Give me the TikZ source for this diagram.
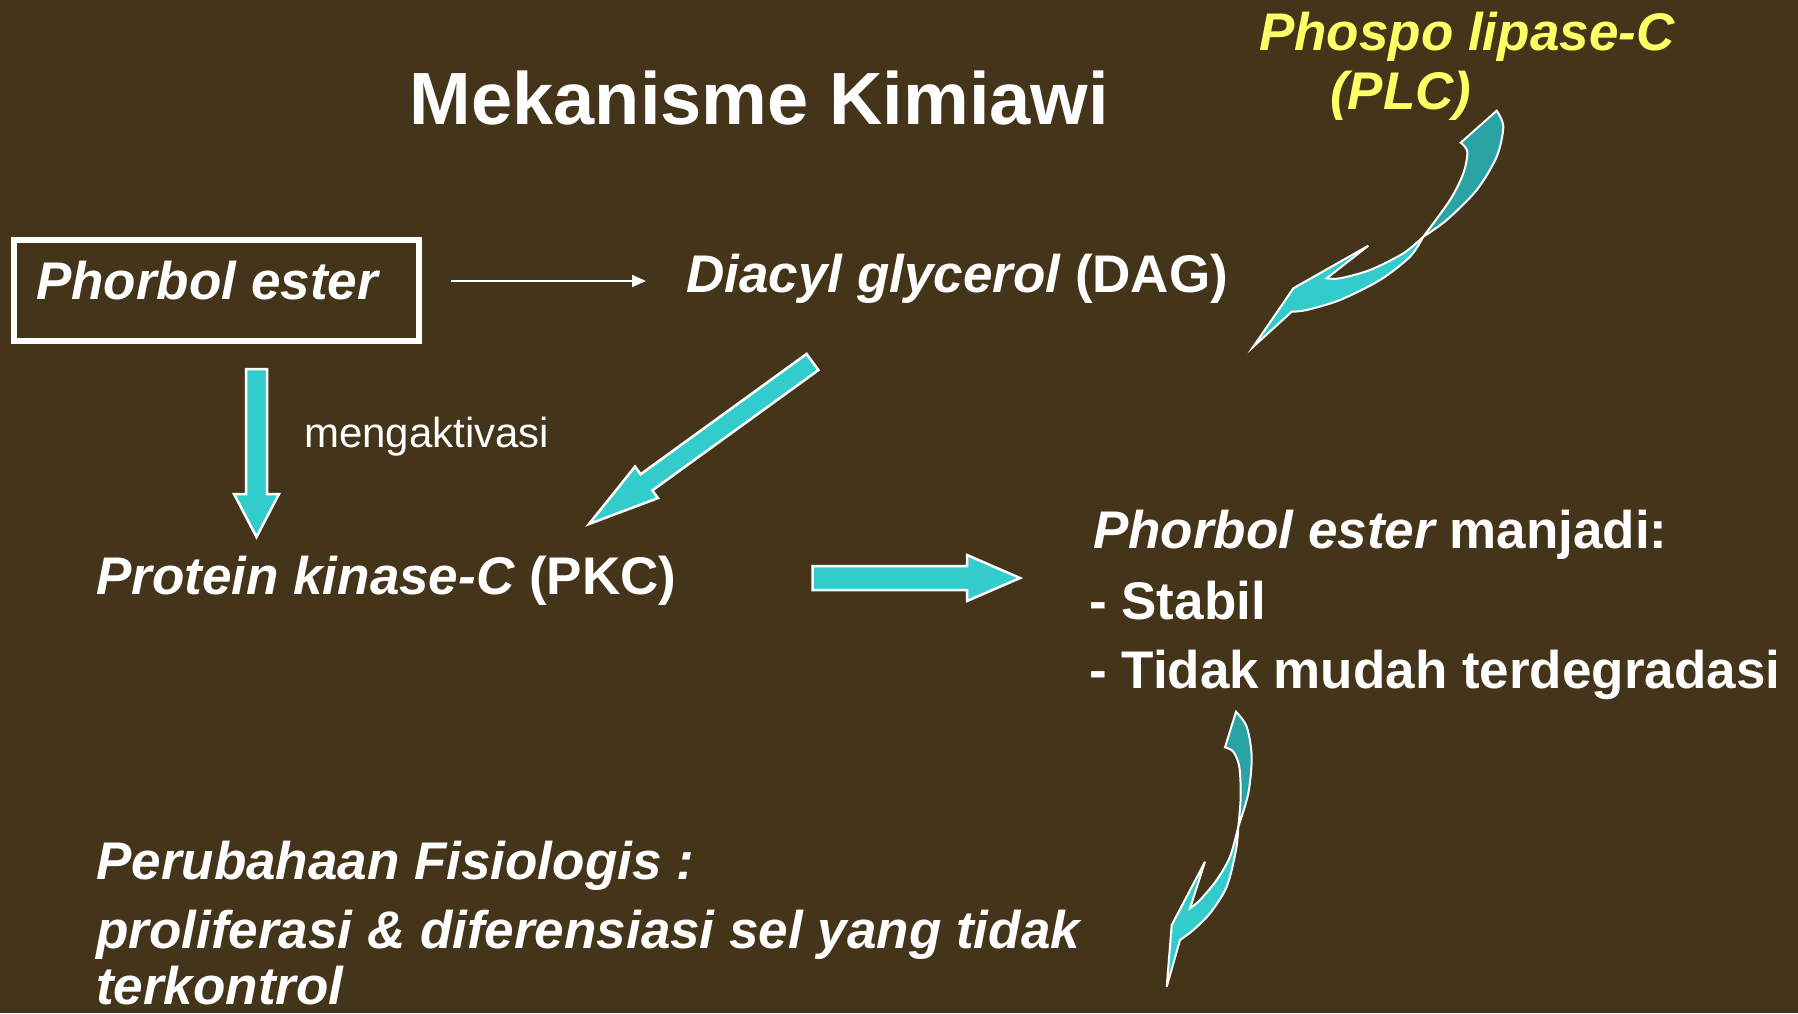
\documentclass[tikz,border=0pt]{standalone}
\usepackage{fontspec}
\setmainfont{Liberation Sans}
\usetikzlibrary{arrows.meta,calc}

\definecolor{slidebg}{HTML}{44341A}
\definecolor{arrowfront}{HTML}{33CCCC}
\definecolor{arrowback}{HTML}{29A3A3}
\definecolor{plcyellow}{HTML}{FFFF66}

% block arrow: from, to, shaft half width, head half width, head length
\newcommand\blockarrow[5]{%
  \coordinate (ba-hb) at ($(#2)!#5!(#1)$);
  \draw[fatarrow] ($(#1)!#3!90:(#2)$) -- ($(ba-hb)!#3!90:(#2)$)
    -- ($(ba-hb)!#4!90:(#2)$) -- (#2) -- ($(ba-hb)!#4!-90:(#2)$)
    -- ($(ba-hb)!#3!-90:(#2)$) -- ($(#1)!#3!-90:(#2)$) -- cycle;
}

\begin{document}
\begin{tikzpicture}[
    x=1pt, y=-1pt,
    >={Triangle[length=14pt,width=12pt]},
    txt/.style={
        text=white, inner sep=0pt, anchor=base west,
        font=\fontsize{53}{60}\selectfont\bfseries
    },
    heading/.style={
        text=white, inner sep=0pt, anchor=base,
        font=\fontsize{74}{80}\selectfont\bfseries
    },
    plc/.style={
        txt, text=plcyellow, font=\fontsize{53}{60}\selectfont\bfseries\itshape
    },
    small/.style={
        text=white, inner sep=0pt, anchor=base west,
        font=\fontsize{42}{48}\selectfont
    },
    framebox/.style={
        draw=white, line width=6pt, inner sep=0pt
    },
    thinflow/.style={
        ->, draw=white, line width=2pt
    },
    fatarrow/.style={
        fill=arrowfront, draw=white, line width=2.5pt, line join=miter
    },
    twistfront/.style={
        fill=arrowfront, draw=white, line width=2pt, line join=miter
    },
    twistback/.style={
        fill=arrowback, draw=white, line width=2pt, line join=miter
    }
]

% background
\fill[slidebg] (0,0) rectangle (1798,1013);
\useasboundingbox (0,0) rectangle (1798,1013);

% texts
\node[heading] (title) at (759.5,124) {Mekanisme Kimiawi};
\node[plc] (plcname) at (1259,50) {Phospo lipase-C};
\node[plc] (plcshort) at (1330,109) {(PLC)};

\node[framebox, minimum width=405, minimum height=101] (phorbolbox) at (216.5,290.5) {};
\node[txt] (phorbol) at (36,299) {\itshape Phorbol ester};
\node[txt] (dag) at (686,292) {\itshape Diacyl glycerol\upshape\ (DAG)};
\node[small] (aktiv) at (304,447) {mengaktivasi};
\node[txt] (pkc) at (96,594) {\itshape Protein kinase-C\upshape\ (PKC)};

\node[txt] (hasil) at (1093,548) {\itshape Phorbol ester\upshape\ manjadi:};
\node[txt] (stabil) at (1089,619) {- Stabil};
\node[txt] (degrad) at (1089,688) {- Tidak mudah terdegradasi};

\node[txt] (fisio) at (96,879) {\itshape Perubahaan Fisiologis :};
\node[txt] (prolif) at (96,948) {\itshape proliferasi \& diferensiasi sel yang tidak};
\node[txt] (kontrol) at (96,1004) {\itshape terkontrol};

% thin arrow
\coordinate (thinstart) at (451,281);
\coordinate (thinend) at (646,281);
\draw[thinflow] (thinstart) -- (thinend);

% block arrows
\coordinate (downtail) at (256.5,369);
\coordinate (downtip) at (256.5,537);
\blockarrow{downtail}{downtip}{10.5pt}{22.5pt}{43pt}

\coordinate (diagtail) at (812.5,362);
\coordinate (diagtip) at (589,524);
\blockarrow{diagtail}{diagtip}{10pt}{19.5pt}{71pt}

\coordinate (righttail) at (812.7,578);
\coordinate (righttip) at (1020,578);
\blockarrow{righttail}{righttip}{12pt}{23pt}{53pt}

% curved arrow from PLC
\draw[twistback] plot[smooth] coordinates {(1496.7,110.7) (1503.3,126.7) (1496.7,156.7) (1476.7,190) (1446.7,220) (1423.3,236.7)}
    -- plot[smooth] coordinates {(1423.3,236.7) (1450,200) (1463.3,173.3) (1467.3,151.7) (1460.7,142.7)} -- cycle;
\draw[twistfront] plot[smooth] coordinates {(1423.3,236.7) (1403.3,253.3) (1370,270) (1340,278.3) (1326.7,278.3)}
    -- (1368.3,245.7) -- (1293.3,288.3) -- (1253.3,346.7)
    -- plot[smooth] coordinates {(1291.7,311.7) (1306.7,310) (1340,300) (1380,280) (1410,256.7) (1423.3,236.7)} -- cycle;

% curved arrow to the bottom text
\draw[twistback] plot[smooth] coordinates {(1236,711.7) (1246.7,726.7) (1251.7,756.7) (1248.3,793.3) (1238.3,826.7)}
    -- plot[smooth] coordinates {(1238.3,826.7) (1240.7,796.7) (1239.3,766.7) (1233.3,751.7) (1225,747.3)} -- cycle;
\draw[twistfront] plot[smooth] coordinates {(1238.3,826.7) (1230,856.7) (1216.7,880) (1200,900) (1190,908.3)}
    -- (1205,861.7) -- (1171.7,925) -- (1166.7,986.7)
    -- plot[smooth] coordinates {(1180,940) (1193.3,930) (1210,913.3) (1226.7,886.7) (1236,850) (1238.3,826.7)} -- cycle;

\end{tikzpicture}
\end{document}
